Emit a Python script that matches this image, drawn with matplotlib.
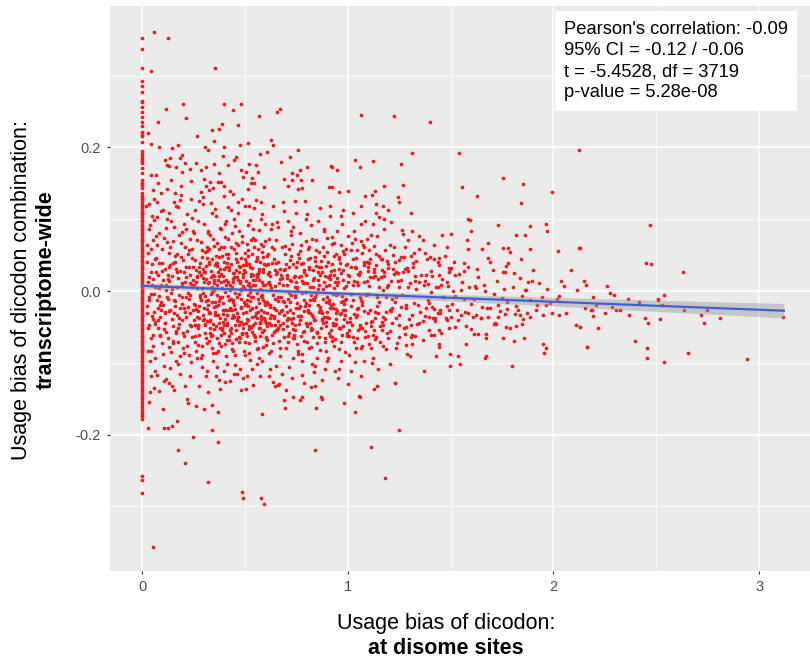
"""Disome-site dicodon usage bias vs transcriptome-wide combination bias."""

import matplotlib

matplotlib.use("Agg")
import matplotlib.pyplot as plt
import numpy as np

plt.rcParams["font.family"] = ["Liberation Sans", "DejaVu Sans"]

# dicodons never seen at disome sites (x = 0)
zero_y = [
    0.353, 0.337, 0.310, 0.292, 0.285, 0.277, 0.265, 0.263, 0.256, 0.249, 0.243, 0.236,
    0.230, 0.221, 0.218, 0.216, 0.207, 0.195, 0.191, 0.188, 0.184, 0.181, 0.178, 0.171,
    0.164, 0.155, 0.151, 0.147, 0.144, 0.137, 0.133, 0.131, 0.128, 0.126, 0.121, 0.119,
    0.116, 0.112, 0.109, 0.107, 0.103, 0.099, 0.097, 0.094, 0.090, 0.087, 0.085, 0.081,
    0.078, 0.074, 0.071, 0.069, 0.065, 0.062, 0.059, 0.056, 0.052, 0.049, 0.047, 0.043,
    0.040, 0.036, 0.033, 0.031, 0.027, 0.024, 0.021, 0.018, 0.014, 0.011, 0.008, 0.006,
    0.002, -0.001, -0.004, -0.008, -0.011, -0.013, -0.017, -0.020, -0.023, -0.027, -0.029,
    -0.033, -0.036, -0.039, -0.042, -0.046, -0.048, -0.052, -0.055, -0.058, -0.062, -0.064,
    -0.068, -0.071, -0.074, -0.077, -0.081, -0.084, -0.087, -0.090, -0.094, -0.097, -0.099,
    -0.103, -0.106, -0.109, -0.113, -0.116, -0.118, -0.122, -0.125, -0.128, -0.132, -0.135,
    -0.138, -0.141, -0.145, -0.148, -0.151, -0.155, -0.158, -0.161, -0.164, -0.168, -0.171,
    -0.174, -0.178, -0.257, -0.263, -0.281,
]

# sparse points above the cloud
upper_pts = [
    (0.06, 0.361), (0.128, 0.352), (0.042, 0.307), (0.353, 0.310), (0.199, 0.261),
    (0.118, 0.254), (0.214, 0.241), (0.078, 0.236), (0.40, 0.260), (0.479, 0.261),
    (0.442, 0.252), (0.57, 0.244), (0.655, 0.25), (0.672, 0.254), (0.467, 0.231),
    (0.39, 0.232), (0.375, 0.225), (0.338, 0.224), (0.269, 0.216), (0.35, 0.209),
    (0.029, 0.22), (0.045, 0.205), (0.083, 0.200), (0.175, 0.203), (0.147, 0.199),
    (0.304, 0.200), (0.319, 0.197), (0.398, 0.2), (0.476, 0.203), (0.516, 0.206),
    (0.625, 0.21), (0.634, 0.204), (0.756, 0.197), (0.573, 0.191), (0.607, 0.193),
    (0.717, 0.187), (0.673, 0.180), (0.80, 0.173), (0.917, 0.174), (0.948, 0.168),
    (1.037, 0.183), (1.062, 0.245), (1.225, 0.244), (1.401, 0.236), (1.314, 0.192),
    (1.54, 0.192), (1.057, 0.173), (1.123, 0.181), (1.259, 0.177), (2.125, 0.196),
    (1.754, 0.158), (1.854, 0.149), (1.994, 0.138), (1.555, 0.145), (1.175, 0.146),
    (1.267, 0.147), (1.13, 0.139), (1.084, 0.132), (1.117, 0.134), (1.243, 0.131),
    (1.628, 0.132), (0.112, 0.183), (0.138, 0.185), (0.122, 0.176), (0.13, 0.174),
    (0.165, 0.173), (0.184, 0.185), (0.193, 0.19), (0.208, 0.179), (0.195, 0.166),
    (0.235, 0.17), (0.264, 0.179), (0.288, 0.168), (0.312, 0.173), (0.35, 0.177),
    (0.392, 0.188), (0.419, 0.176), (0.375, 0.165), (0.447, 0.183), (0.457, 0.186),
    (0.482, 0.168), (0.518, 0.177), (0.555, 0.175), (0.505, 0.166), (0.562, 0.166),
    (0.491, 0.159), (0.535, 0.158), (0.545, 0.151), (0.531, 0.151), (0.044, 0.161),
    (0.066, 0.161), (0.078, 0.150), (0.051, 0.141), (0.142, 0.154), (0.188, 0.146),
    (0.16, 0.137), (0.24, 0.153), (0.301, 0.156), (0.33, 0.152), (0.288, 0.138),
    (0.325, 0.141), (0.31, 0.146), (0.346, 0.143), (0.369, 0.152), (0.383, 0.152),
    (0.4, 0.146), (0.443, 0.135), (0.425, 0.139), (0.514, 0.142), (0.593, 0.145),
    (0.689, 0.156), (0.707, 0.146), (0.727, 0.165), (0.73, 0.154), (0.751, 0.161),
    (0.768, 0.168), (0.773, 0.155), (0.757, 0.142), (0.779, 0.143), (0.827, 0.155),
    (0.908, 0.145), (0.924, 0.145), (0.958, 0.138), (1.001, 0.139), (0.924, 0.173),
]

# sparse points below the cloud
lower_pts = [
    (0.037, -0.140), (0.06, -0.135), (0.032, -0.154), (0.028, -0.191), (0.1, -0.165),
    (0.107, -0.126), (0.144, -0.133), (0.154, -0.138), (0.108, -0.191), (0.128, -0.191),
    (0.146, -0.188), (0.171, -0.181), (0.22, -0.151), (0.225, -0.156), (0.264, -0.16),
    (0.3, -0.164), (0.34, -0.159), (0.37, -0.168), (0.34, -0.194), (0.246, -0.204),
    (0.369, -0.21), (0.175, -0.221), (0.207, -0.239), (0.322, -0.266), (0.485, -0.28),
    (0.489, -0.288), (0.579, -0.288), (0.591, -0.296), (0.055, -0.356), (0.584, -0.172),
    (0.841, -0.221), (0.38, -0.136), (0.426, -0.125), (0.479, -0.138), (0.503, -0.136),
    (0.637, -0.127), (0.647, -0.133), (0.66, -0.131), (0.689, -0.152), (0.697, -0.163),
    (0.736, -0.148), (0.77, -0.152), (0.778, -0.148), (0.82, -0.134), (0.843, -0.133),
    (0.846, -0.163), (0.872, -0.147), (0.876, -0.151), (0.981, -0.156), (1.001, -0.13),
    (1.035, -0.168), (1.053, -0.146), (1.128, -0.137), (1.057, -0.147), (1.231, -0.128),
    (1.248, -0.193), (1.112, -0.217), (1.181, -0.26), (1.141, -0.132), (1.23, -0.128),
]

# right-hand part of the cloud (x > 1)
right_pts = [
    (1.249, 0.124), (1.84, 0.123), (1.062, 0.118), (1.172, 0.118), (1.196, 0.113),
    (1.139, 0.108), (1.152, 0.103), (1.176, 0.10), (1.306, 0.108), (1.21, 0.096),
    (1.063, 0.094), (1.123, 0.093), (1.586, 0.101), (1.594, 0.099), (1.73, 0.092),
    (1.887, 0.09), (1.964, 0.093), (1.967, 0.084), (1.817, 0.078), (1.862, 0.078),
    (1.6, 0.084), (1.503, 0.079), (1.456, 0.078), (1.265, 0.085), (1.311, 0.084),
    (1.268, 0.080), (1.142, 0.076), (1.029, 0.084), (1.346, 0.076), (1.364, 0.071),
    (1.578, 0.071), (1.683, 0.067), (1.756, 0.060), (1.777, 0.06), (1.791, 0.054),
    (1.888, 0.059), (2.021, 0.056), (2.126, 0.06), (1.582, 0.059), (1.652, 0.058),
    (1.482, 0.061), (1.68, 0.046), (1.84, 0.045), (1.778, 0.039), (1.563, 0.039),
    (1.515, 0.04), (1.628, 0.03), (1.704, 0.029), (1.77, 0.035), (1.764, 0.026),
    (1.806, 0.025), (2.084, 0.029), (1.874, 0.012), (1.895, 0.014), (2.037, 0.014),
    (2.052, 0.007), (2.112, 0.002), (1.967, 0.003), (1.861, 0.002), (1.848, -0.007),
    (1.757, 0.003), (2.029, -0.007), (2.019, -0.011), (1.965, -0.020), (1.921, -0.020),
    (1.948, -0.033), (1.992, -0.031), (2.026, -0.034), (2.063, -0.030), (2.107, -0.047),
    (2.128, -0.050), (2.165, -0.078), (1.948, -0.074), (1.965, -0.079), (1.956, -0.087),
    (1.888, -0.036), (1.872, -0.031), (1.845, -0.046), (1.816, -0.049), (1.859, -0.066),
    (1.808, -0.07), (1.754, -0.066), (1.769, -0.05), (1.72, -0.046), (1.673, -0.06),
    (1.67, -0.065), (1.634, -0.06), (1.615, -0.06), (1.573, -0.074), (1.67, -0.09),
    (1.667, -0.094), (1.8, -0.104), (1.547, -0.102), (1.536, -0.091), (1.497, -0.088),
    (1.497, -0.105), (1.427, -0.09), (1.369, -0.111), (1.207, -0.101), (1.147, -0.109),
    (1.117, -0.1), (1.079, -0.098), (1.034, -0.099), (1.016, -0.111), (1.063, -0.079),
    (1.286, -0.088), (1.3, -0.09), (1.442, -0.078), (1.443, -0.074), (1.311, -0.074),
    (1.282, -0.075), (1.235, -0.08), (1.188, -0.081), (1.173, -0.076), (1.112, -0.079),
    (1.07, -0.076), (1.047, -0.066), (1.406, -0.061), (1.421, -0.061), (1.573, -0.049),
    (1.519, -0.05), (1.494, -0.051), (1.445, -0.054), (1.325, -0.063), (1.306, -0.064),
    (1.283, -0.05), (1.251, -0.064), (1.194, -0.066), (1.139, -0.064), (1.099, -0.063),
    (1.026, -0.064), (1.049, -0.054), (1.125, -0.054), (1.168, -0.054), (1.28, -0.06),
    (1.307, -0.048), (1.366, -0.042), (1.396, -0.036), (1.422, -0.037), (1.503, -0.036),
    (1.55, -0.033), (1.584, -0.031), (1.607, -0.036), (1.621, -0.033), (1.65, -0.037),
    (1.684, -0.036), (1.714, -0.044), (1.73, -0.036), (1.765, -0.032), (1.811, -0.032),
    (1.838, -0.034), (1.775, -0.025), (1.827, -0.027), (1.73, -0.02), (1.689, -0.024),
    (1.652, -0.022), (1.6, -0.018), (1.531, -0.027), (1.484, -0.021), (1.45, -0.031),
    (1.421, -0.025), (1.396, -0.017), (1.343, -0.02), (1.519, -0.007), (1.563, -0.011),
    (1.623, 0.004), (1.62, 0.007), (1.667, 0.000), (1.709, -0.004), (1.751, -0.01),
    (1.549, 0.001), (1.591, 0.005), (1.485, 0.007), (1.438, 0.005), (1.451, 0.009),
    (1.392, 0.01), (1.511, 0.000), (1.403, -0.001), (1.377, 0.014), (1.346, 0.013),
    (1.327, 0.014), (1.293, 0.006), (1.243, 0.014), (1.445, 0.023), (1.382, 0.022),
    (1.409, 0.021), (1.494, 0.026), (1.54, 0.024), (1.503, 0.032), (1.49, 0.032),
    (1.565, 0.028), (1.437, 0.041), (1.421, 0.045), (1.442, 0.046), (1.398, 0.047),
    (1.374, 0.053), (1.319, 0.034), (1.286, 0.032), (1.232, 0.027), (1.176, 0.027),
    (1.128, 0.027), (1.33, 0.042), (1.306, 0.049), (1.273, 0.048), (1.249, 0.043),
    (1.22, 0.05), (1.189, 0.042), (1.16, 0.044), (1.078, 0.041), (1.11, 0.044),
    (1.042, 0.032), (1.096, 0.034), (1.204, 0.064), (1.183, 0.057), (1.102, 0.057),
    (1.044, 0.057), (1.073, 0.064), (1.091, 0.073), (1.033, 0.072), (1.277, 0.061),
    (1.324, 0.053),
    (2.468, 0.092), (2.45, 0.039), (2.474, 0.038), (2.628, 0.027), (2.131, 0.06),
    (2.15, 0.014), (2.157, 0.009), (2.262, 0.007), (2.191, -0.008), (2.274, -0.003),
    (2.295, -0.006), (2.536, -0.006), (2.51, -0.011), (2.507, -0.013), (2.361, -0.011),
    (2.414, -0.016), (2.207, -0.020), (2.286, -0.022), (2.154, -0.024), (2.181, -0.027),
    (2.189, -0.026), (2.303, -0.027), (2.322, -0.026), (2.529, -0.02), (2.633, -0.026),
    (2.744, -0.026), (2.252, -0.031), (2.193, -0.035), (2.369, -0.034), (2.717, -0.033),
    (2.443, -0.038), (2.519, -0.039), (2.809, -0.037), (2.46, -0.044), (2.733, -0.044),
    (3.118, -0.036), (2.131, -0.05), (2.218, -0.051), (2.395, -0.069), (2.162, -0.078),
    (2.455, -0.080), (2.654, -0.086), (2.453, -0.093), (2.536, -0.099), (2.94, -0.095),
]

# dense core, estimated by eye (0 < x < 2)
core_pts = [
    (0.021, 0.118), (0.024, -0.021), (0.026, 0.064), (0.029, -0.083), (0.031, 0.012),
    (0.033, 0.121), (0.035, -0.047), (0.038, 0.092), (0.041, -0.004), (0.043, -0.118),
    (0.046, 0.037), (0.049, 0.104), (0.052, -0.061), (0.054, 0.071), (0.057, -0.029),
    (0.059, 0.128), (0.062, 0.005), (0.065, -0.094), (0.068, 0.046), (0.071, -0.013),
    (0.073, 0.103), (0.076, -0.052), (0.079, 0.022), (0.082, -0.139), (0.084, 0.081),
    (0.087, -0.036), (0.090, 0.137), (0.093, 0.008), (0.096, -0.072), (0.098, 0.059),
    (0.101, -0.019), (0.104, 0.113), (0.107, -0.104), (0.110, 0.031), (0.113, -0.044),
    (0.116, 0.088), (0.119, -0.008), (0.121, 0.142), (0.124, -0.066), (0.127, 0.017),
    (0.130, -0.128), (0.133, 0.053), (0.136, -0.027), (0.139, 0.097), (0.142, -0.085),
    (0.145, 0.003), (0.148, 0.069), (0.151, -0.049), (0.154, 0.124), (0.157, -0.012),
    (0.160, 0.041), (0.163, -0.097), (0.166, 0.119), (0.169, -0.034), (0.172, 0.026),
    (0.175, -0.071), (0.178, 0.078), (0.181, -0.006), (0.184, -0.115), (0.187, 0.048),
    (0.190, 0.134), (0.193, -0.041), (0.196, 0.011), (0.199, -0.079), (0.202, 0.094),
    (0.205, -0.023), (0.208, 0.061), (0.211, -0.132), (0.214, 0.019), (0.217, -0.056),
    (0.220, 0.107), (0.223, -0.003), (0.226, 0.034), (0.229, -0.089), (0.232, 0.073),
    (0.235, -0.031), (0.238, 0.128), (0.241, -0.064), (0.244, 0.009), (0.247, 0.084),
    (0.252, -0.018), (0.256, 0.043), (0.259, -0.071), (0.263, 0.012), (0.266, -0.036),
    (0.27, 0.097), (0.273, -0.052), (0.277, 0.026), (0.281, -0.009), (0.284, 0.068),
    (0.288, -0.094), (0.291, 0.004), (0.295, -0.041), (0.298, 0.121), (0.302, -0.023),
    (0.305, 0.055), (0.309, -0.066), (0.312, 0.017), (0.316, -0.112), (0.319, 0.081),
    (0.323, -0.031), (0.326, 0.038), (0.33, -0.058), (0.333, -0.004), (0.337, 0.122),
    (0.34, -0.079), (0.344, 0.022), (0.347, -0.046), (0.351, 0.063), (0.354, -0.015),
    (0.358, 0.104), (0.361, -0.087), (0.365, 0.009), (0.368, -0.034), (0.372, 0.047),
    (0.375, -0.124), (0.379, 0.031), (0.382, -0.061), (0.386, 0.086), (0.389, -0.008),
    (0.393, -0.043), (0.396, 0.014), (0.4, 0.132), (0.403, -0.074), (0.407, 0.052),
    (0.41, -0.027), (0.414, -0.101), (0.417, 0.073), (0.421, -0.012), (0.424, 0.029),
    (0.428, -0.055), (0.431, 0.113), (0.435, -0.038), (0.438, 0.006), (0.442, -0.083),
    (0.445, 0.058), (0.449, -0.02), (0.452, 0.091), (0.456, -0.067), (0.459, 0.019),
    (0.463, -0.03), (0.466, 0.124), (0.47, -0.048), (0.473, 0.035), (0.477, -0.109),
    (0.48, 0.002), (0.484, 0.077), (0.487, -0.06), (0.491, 0.024), (0.494, -0.016),
    (0.498, 0.118), (0.501, -0.089), (0.505, 0.041), (0.508, -0.039), (0.512, 0.066),
    (0.515, -0.005), (0.519, -0.072), (0.522, 0.011), (0.526, 0.099), (0.529, -0.05),
    (0.533, 0.032), (0.536, -0.024), (0.54, -0.131), (0.543, 0.061), (0.547, -0.044),
    (0.55, 0.016), (0.554, 0.127), (0.557, -0.081), (0.561, 0.048), (0.564, -0.011),
    (0.568, 0.085), (0.571, -0.063), (0.575, 0.003), (0.578, -0.035), (0.582, 0.107),
    (0.585, -0.097), (0.589, 0.027), (0.592, -0.054), (0.596, 0.069), (0.599, -0.019),
    (0.254, 0.081), (0.258, -0.047), (0.261, 0.029), (0.265, -0.093), (0.268, 0.004),
    (0.272, -0.028), (0.275, 0.126), (0.279, -0.061), (0.282, 0.039), (0.286, -0.013),
    (0.289, 0.057), (0.293, -0.076), (0.296, 0.018), (0.3, -0.039), (0.303, 0.094),
    (0.307, -0.007), (0.31, -0.119), (0.314, 0.046), (0.317, -0.025), (0.321, 0.011),
    (0.324, -0.069), (0.328, 0.078), (0.331, -0.042), (0.335, 0.028), (0.338, -0.016),
    (0.342, 0.109), (0.345, -0.086), (0.349, 0.001), (0.352, -0.053), (0.356, 0.036),
    (0.359, -0.021), (0.363, 0.067), (0.366, -0.106), (0.37, 0.016), (0.373, -0.045),
    (0.377, 0.088), (0.38, -0.01), (0.384, -0.077), (0.387, 0.049), (0.391, -0.032),
    (0.394, 0.021), (0.398, -0.058), (0.401, 0.075), (0.405, -0.002), (0.408, -0.091),
    (0.412, 0.039), (0.415, -0.033), (0.419, 0.117), (0.422, -0.063), (0.426, 0.008),
    (0.429, -0.024), (0.433, 0.062), (0.436, -0.073), (0.44, 0.025), (0.443, -0.013),
    (0.447, 0.101), (0.45, -0.047), (0.454, -0.003), (0.457, 0.044), (0.461, -0.115),
    (0.464, 0.015), (0.468, -0.036), (0.471, 0.083), (0.475, -0.066), (0.478, 0.033),
    (0.482, -0.022), (0.485, 0.128), (0.489, -0.051), (0.492, 0.007), (0.496, -0.084),
    (0.499, 0.053), (0.503, -0.029), (0.506, 0.014), (0.51, -0.062), (0.513, 0.092),
    (0.517, -0.041), (0.52, 0.037), (0.524, -0.014), (0.527, -0.096), (0.531, 0.071),
    (0.534, -0.057), (0.538, 0.022), (0.541, -0.008), (0.545, 0.116), (0.548, -0.07),
    (0.552, 0.042), (0.555, -0.031), (0.559, -0.102), (0.562, 0.059), (0.566, -0.017),
    (0.569, 0.028), (0.573, -0.045), (0.576, 0.124), (0.58, -0.026), (0.583, 0.054),
    (0.587, -0.078), (0.59, 0.008), (0.594, -0.038), (0.597, 0.094), (0.6, -0.064),
    (0.262, -0.025), (0.271, -0.048), (0.283, -0.006), (0.294, -0.034), (0.306, -0.058),
    (0.318, -0.019), (0.329, -0.041), (0.341, -0.001), (0.353, -0.029), (0.364, -0.065),
    (0.376, -0.014), (0.388, -0.052), (0.399, -0.027), (0.411, -0.044), (0.423, -0.068),
    (0.434, -0.011), (0.446, -0.036), (0.458, -0.054), (0.469, -0.004), (0.481, -0.043),
    (0.493, -0.031), (0.504, -0.059), (0.516, -0.021), (0.528, -0.008), (0.539, -0.047),
    (0.551, -0.064), (0.563, -0.029), (0.574, -0.051), (0.586, -0.013), (0.598, -0.042),
    (0.267, 0.019), (0.279, 0.034), (0.292, 0.048), (0.304, 0.027), (0.315, 0.062),
    (0.327, 0.012), (0.339, 0.044), (0.35, 0.021), (0.362, 0.035), (0.374, 0.058),
    (0.385, 0.024), (0.397, 0.041), (0.409, 0.016), (0.42, 0.051), (0.432, 0.038),
    (0.444, 0.012), (0.455, 0.029), (0.467, 0.064), (0.479, 0.046), (0.49, 0.019),
    (0.502, 0.027), (0.514, 0.049), (0.525, 0.034), (0.537, 0.008), (0.549, 0.071),
    (0.56, 0.024), (0.572, 0.041), (0.584, 0.013), (0.595, 0.037), (0.257, -0.062),
    (0.278, -0.132), (0.322, -0.141), (0.358, -0.118), (0.404, -0.127), (0.447, -0.116),
    (0.493, -0.121), (0.532, -0.109), (0.571, -0.119),
    (0.603, 0.036), (0.607, -0.049), (0.611, 0.011), (0.615, -0.087), (0.619, 0.072),
    (0.623, -0.022), (0.627, 0.004), (0.631, -0.061), (0.635, 0.118), (0.639, -0.035),
    (0.643, 0.045), (0.647, -0.011), (0.651, -0.104), (0.655, 0.026), (0.659, -0.042),
    (0.663, 0.089), (0.667, -0.069), (0.671, 0.017), (0.675, -0.028), (0.679, 0.061),
    (0.683, -0.053), (0.687, 0.124), (0.691, -0.016), (0.695, 0.031), (0.699, -0.079),
    (0.703, 0.008), (0.707, -0.037), (0.711, 0.097), (0.715, -0.058), (0.719, 0.043),
    (0.723, -0.006), (0.727, -0.121), (0.731, 0.066), (0.735, -0.031), (0.739, 0.019),
    (0.743, -0.047), (0.747, 0.109), (0.751, -0.074), (0.755, 0.002), (0.759, 0.052),
    (0.763, -0.024), (0.767, 0.081), (0.771, -0.063), (0.775, 0.014), (0.779, -0.098),
    (0.783, 0.039), (0.787, -0.012), (0.791, 0.125), (0.795, -0.044), (0.799, 0.023),
    (0.803, -0.071), (0.807, 0.058), (0.811, -0.019), (0.815, 0.006), (0.819, -0.052),
    (0.823, 0.092), (0.827, -0.033), (0.831, 0.029), (0.835, -0.113), (0.839, 0.048),
    (0.843, -0.008), (0.847, 0.071), (0.851, -0.057), (0.855, 0.015), (0.859, -0.029),
    (0.863, 0.116), (0.867, -0.082), (0.871, 0.034), (0.875, -0.041), (0.879, 0.003),
    (0.883, 0.087), (0.887, -0.066), (0.891, 0.021), (0.895, -0.016), (0.899, 0.054),
    (0.903, -0.093), (0.907, 0.009), (0.911, -0.037), (0.915, 0.104), (0.919, -0.054),
    (0.923, 0.038), (0.927, -0.023), (0.931, 0.067), (0.935, -0.076), (0.939, 0.012),
    (0.943, -0.046), (0.947, 0.083), (0.951, -0.004), (0.955, -0.108), (0.959, 0.044),
    (0.963, -0.032), (0.967, 0.025), (0.971, -0.061), (0.975, 0.113), (0.979, -0.014),
    (0.983, 0.051), (0.987, -0.085), (0.991, 0.007), (0.995, -0.043), (0.999, 0.076),
    (0.605, -0.015), (0.613, 0.052), (0.621, -0.038), (0.629, 0.087), (0.637, -0.072),
    (0.645, 0.007), (0.653, -0.027), (0.661, 0.041), (0.669, -0.091), (0.677, 0.022),
    (0.685, -0.044), (0.693, 0.063), (0.701, -0.021), (0.709, -0.062), (0.717, 0.016),
    (0.725, 0.078), (0.733, -0.053), (0.741, -0.009), (0.749, 0.033), (0.757, -0.084),
    (0.765, 0.046), (0.773, -0.035), (0.781, 0.011), (0.789, -0.056), (0.797, 0.069),
    (0.805, -0.027), (0.813, 0.031), (0.821, -0.078), (0.829, 0.005), (0.837, -0.041),
    (0.845, 0.057), (0.853, -0.019), (0.861, -0.064), (0.869, 0.042), (0.877, -0.031),
    (0.885, 0.013), (0.893, -0.049), (0.901, 0.074), (0.909, -0.012), (0.917, 0.028),
    (0.925, -0.069), (0.933, 0.049), (0.941, -0.025), (0.949, 0.018), (0.957, -0.051),
    (0.965, 0.064), (0.973, -0.007), (0.981, -0.039), (0.989, 0.036), (0.997, -0.058),
    (0.609, -0.03), (0.625, -0.047), (0.641, -0.024), (0.657, -0.055), (0.673, -0.009),
    (0.689, -0.034), (0.705, -0.049), (0.721, -0.026), (0.737, -0.066), (0.753, -0.017),
    (0.769, -0.041), (0.785, -0.028), (0.801, -0.049), (0.817, -0.012), (0.833, -0.036),
    (0.849, -0.059), (0.865, -0.022), (0.881, -0.045), (0.897, -0.029), (0.913, -0.063),
    (0.929, -0.018), (0.945, -0.039), (0.961, -0.052), (0.977, -0.027), (0.993, -0.011),
    (0.617, 0.027), (0.649, 0.039), (0.681, 0.018), (0.713, 0.034), (0.745, 0.021),
    (0.617, -0.118), (0.665, -0.129), (0.713, -0.106), (0.777, -0.117), (0.825, -0.101),
    (0.873, -0.124), (0.937, -0.112), (0.969, -0.097), (0.701, -0.138), (0.889, -0.109),
    (1.004, 0.021), (1.011, -0.038), (1.017, 0.057), (1.024, -0.012), (1.031, -0.071),
    (1.037, 0.034), (1.044, -0.025), (1.051, 0.008), (1.057, -0.047), (1.064, 0.069),
    (1.071, -0.019), (1.077, 0.013), (1.084, -0.056), (1.091, 0.041), (1.097, -0.031),
    (1.104, -0.004), (1.111, 0.078), (1.117, -0.042), (1.124, 0.019), (1.131, -0.067),
    (1.137, 0.052), (1.144, -0.021), (1.151, 0.006), (1.157, -0.049), (1.164, 0.029),
    (1.171, -0.036), (1.177, 0.087), (1.184, -0.009), (1.191, -0.058), (1.197, 0.037),
    (1.204, -0.027), (1.211, 0.014), (1.217, -0.044), (1.224, 0.061), (1.231, -0.015),
    (1.237, -0.073), (1.244, 0.025), (1.251, -0.033), (1.257, 0.047), (1.264, -0.006),
    (1.271, -0.052), (1.277, 0.031), (1.284, -0.024), (1.291, 0.071), (1.297, -0.039),
    (1.304, 0.011), (1.311, -0.061), (1.317, 0.039), (1.324, -0.017), (1.331, 0.003),
    (1.337, -0.046), (1.344, 0.058), (1.351, -0.029), (1.357, 0.022), (1.364, -0.068),
    (1.371, 0.009), (1.377, -0.035), (1.384, 0.044), (1.391, -0.013), (1.397, -0.054),
    (1.404, 0.028), (1.411, -0.022), (1.417, 0.064), (1.424, -0.042), (1.431, 0.005),
    (1.437, -0.031), (1.444, 0.036), (1.451, -0.058), (1.457, 0.017), (1.464, -0.009),
    (1.471, 0.049), (1.477, -0.037), (1.484, 0.012), (1.491, -0.026), (1.497, 0.031),
    (1.014, -0.021), (1.047, -0.034), (1.081, -0.028), (1.114, -0.043), (1.147, -0.031),
    (1.181, -0.039), (1.214, -0.024), (1.247, -0.048), (1.281, -0.019), (1.314, -0.033),
    (1.347, -0.045), (1.381, -0.023), (1.414, -0.038), (1.447, -0.027), (1.481, -0.041),
    (1.027, 0.008), (1.061, 0.027), (1.094, 0.014), (1.127, 0.031), (1.161, 0.019),
    (1.194, 0.009), (1.227, 0.024), (1.261, 0.016), (1.294, 0.028), (1.327, 0.021),
    (1.507, -0.018), (1.523, 0.023), (1.538, -0.041), (1.553, 0.012), (1.569, -0.029),
    (1.584, 0.034), (1.599, -0.053), (1.615, -0.011), (1.631, 0.019), (1.646, -0.037),
    (1.662, 0.008), (1.678, -0.024), (1.693, 0.041), (1.709, -0.046), (1.724, 0.014),
    (1.741, -0.028), (1.756, 0.027), (1.772, -0.015), (1.788, -0.052), (1.803, 0.006),
    (1.819, -0.021), (1.836, 0.018), (1.852, -0.039), (1.868, 0.001), (1.884, -0.012),
    (1.899, 0.029), (1.916, -0.027), (1.931, 0.011), (1.946, -0.009), (1.982, -0.017),
]

# second pass over the densest part of the cloud
core_extra_pts = [
    (0.023, 0.041), (0.027, -0.052), (0.032, 0.086), (0.036, -0.009), (0.039, -0.098),
    (0.044, 0.058), (0.047, -0.035), (0.051, 0.017), (0.055, -0.076), (0.058, 0.099),
    (0.063, -0.043), (0.067, 0.027), (0.071, -0.117), (0.074, 0.064), (0.078, -0.024),
    (0.083, 0.004), (0.086, -0.061), (0.091, 0.112), (0.094, -0.015), (0.099, 0.039),
    (0.103, -0.088), (0.106, 0.074), (0.111, -0.031), (0.115, 0.008), (0.118, -0.057),
    (0.123, 0.101), (0.126, -0.011), (0.131, 0.033), (0.135, -0.107), (0.138, 0.061),
    (0.143, -0.039), (0.147, 0.021), (0.15, -0.073), (0.155, 0.089), (0.158, -0.021),
    (0.162, 0.049), (0.167, -0.058), (0.17, 0.006), (0.174, 0.117), (0.179, -0.046),
    (0.183, 0.028), (0.186, -0.091), (0.191, 0.067), (0.195, -0.018), (0.198, 0.043),
    (0.203, -0.063), (0.207, 0.013), (0.21, -0.029), (0.215, 0.086), (0.219, -0.077),
    (0.222, 0.051), (0.227, -0.011), (0.231, -0.047), (0.234, 0.023), (0.239, -0.099),
    (0.243, 0.058), (0.246, -0.026), (0.251, 0.008), (0.255, 0.113), (0.26, -0.083),
    (0.301, 0.012), (0.305, -0.046), (0.311, 0.035), (0.315, -0.072), (0.32, -0.012),
    (0.325, 0.058), (0.329, -0.031), (0.334, 0.004), (0.339, -0.061), (0.343, 0.073),
    (0.348, -0.022), (0.352, 0.016), (0.357, -0.049), (0.362, -0.006), (0.366, 0.039),
    (0.371, -0.083), (0.375, 0.021), (0.38, -0.037), (0.385, 0.061), (0.389, -0.055),
    (0.394, -0.017), (0.399, 0.031), (0.403, -0.039), (0.408, 0.009), (0.413, -0.068),
    (0.417, 0.046), (0.422, -0.027), (0.427, 0.002), (0.431, -0.051), (0.436, 0.081),
    (0.441, -0.033), (0.445, 0.019), (0.45, -0.089), (0.455, 0.053), (0.459, -0.009),
    (0.464, -0.042), (0.469, 0.027), (0.473, -0.064), (0.478, 0.011), (0.483, -0.024),
    (0.487, 0.068), (0.492, -0.046), (0.497, 0.004), (0.501, -0.071), (0.506, 0.036),
    (0.511, -0.013), (0.515, 0.057), (0.52, -0.053), (0.525, -0.002), (0.529, 0.024),
    (0.534, -0.036), (0.539, 0.087), (0.543, -0.061), (0.548, 0.009), (0.553, -0.022),
    (0.557, 0.044), (0.562, -0.079), (0.567, 0.016), (0.571, -0.043), (0.576, 0.066),
    (0.581, -0.009), (0.585, -0.057), (0.59, 0.031), (0.595, -0.029), (0.599, 0.008),
    (0.604, -0.066), (0.609, 0.049), (0.613, -0.018), (0.618, -0.045), (0.623, 0.021),
    (0.627, -0.083), (0.632, 0.062), (0.637, -0.006), (0.641, -0.037), (0.646, 0.029),
    (0.651, -0.055), (0.655, 0.096), (0.66, -0.014), (0.665, 0.011), (0.669, -0.048),
    (0.702, 0.037), (0.706, -0.029), (0.711, -0.071), (0.716, 0.058), (0.72, -0.015),
    (0.725, 0.014), (0.73, -0.044), (0.734, 0.089), (0.739, -0.061), (0.744, 0.005),
    (0.748, -0.024), (0.753, 0.041), (0.758, -0.088), (0.762, 0.019), (0.767, -0.035),
    (0.772, 0.064), (0.776, -0.003), (0.781, -0.057), (0.786, 0.029), (0.79, -0.021),
    (0.795, 0.101), (0.8, -0.046), (0.804, 0.011), (0.809, -0.079), (0.814, 0.046),
    (0.818, -0.031), (0.823, -0.006), (0.828, 0.072), (0.832, -0.064), (0.837, 0.018),
    (0.842, -0.041), (0.846, 0.035), (0.851, -0.094), (0.856, 0.003), (0.86, 0.054),
    (0.865, -0.027), (0.87, -0.051), (0.874, 0.026), (0.879, -0.011), (0.884, 0.083),
    (0.888, -0.071), (0.893, 0.007), (0.898, -0.036), (0.902, 0.041), (0.907, -0.058),
    (0.912, 0.017), (0.916, -0.019), (0.921, 0.066), (0.926, -0.044), (0.93, -0.004),
    (0.935, 0.029), (0.94, -0.067), (0.944, 0.051), (0.949, -0.028), (0.954, 0.012),
    (0.958, -0.081), (0.963, 0.039), (0.968, -0.016), (0.972, 0.094), (0.977, -0.049),
    (0.982, 0.004), (0.986, -0.033), (0.991, 0.059), (0.996, -0.062), (1.001, 0.023),
    (1.021, -0.047), (1.041, 0.046), (1.061, -0.009), (1.081, 0.062), (1.101, -0.074),
    (0.062, -0.111), (0.118, -0.123), (0.176, -0.101), (0.233, -0.118), (0.291, -0.106),
    (0.347, -0.097), (0.398, -0.112), (0.452, -0.103), (0.511, -0.119), (0.566, -0.094),
    (0.622, -0.108), (0.678, -0.116), (0.733, -0.093), (0.788, -0.128), (0.843, -0.104),
    (0.897, -0.097), (0.952, -0.121), (1.008, -0.089), (1.063, -0.118), (1.121, -0.093),
    (0.071, 0.124), (0.129, 0.109), (0.185, 0.127), (0.241, 0.102), (0.297, 0.131),
    (0.353, 0.114), (0.409, 0.098), (0.464, 0.109), (0.521, 0.118), (0.577, 0.101),
    (0.633, 0.094), (0.689, 0.112), (0.745, 0.126), (0.801, 0.107), (0.857, 0.098),
    (0.913, 0.119), (0.969, 0.104), (1.025, 0.109), (1.082, 0.097), (1.138, 0.121),
]

# third pass: the packed band just under and above the fit line
core_fill_pts = [
    (0.024, -0.031), (0.035, 0.019), (0.044, -0.066), (0.056, -0.004), (0.064, 0.044),
    (0.077, -0.041), (0.085, -0.019), (0.097, 0.028), (0.108, -0.053), (0.117, 0.002),
    (0.129, -0.028), (0.138, 0.036), (0.149, -0.069), (0.161, -0.014), (0.171, 0.051),
    (0.18, -0.038), (0.192, 0.007), (0.201, -0.059), (0.213, 0.033), (0.224, -0.022),
    (0.233, -0.006), (0.245, 0.046), (0.253, -0.041), (0.266, 0.021), (0.274, -0.075),
    (0.287, -0.012), (0.296, 0.031), (0.308, -0.048), (0.317, 0.056), (0.327, -0.029),
    (0.336, -0.062), (0.348, 0.011), (0.357, 0.039), (0.369, -0.019), (0.378, -0.052),
    (0.39, 0.004), (0.398, 0.061), (0.411, -0.034), (0.419, -0.007), (0.432, -0.058),
    (0.44, 0.017), (0.452, -0.025), (0.461, 0.041), (0.473, -0.071), (0.482, -0.011),
    (0.494, 0.029), (0.503, -0.044), (0.515, 0.009), (0.523, -0.027), (0.536, 0.052),
    (0.544, -0.061), (0.557, -0.003), (0.565, 0.024), (0.578, -0.039), (0.586, 0.047),
    (0.598, -0.016), (0.607, -0.068), (0.619, 0.013), (0.628, -0.033), (0.64, 0.058),
    (0.648, -0.047), (0.661, -0.008), (0.669, 0.031), (0.682, -0.026), (0.69, -0.064),
    (0.703, 0.022), (0.711, -0.011), (0.724, 0.049), (0.732, -0.038), (0.745, -0.054),
    (0.753, 0.006), (0.766, -0.021), (0.774, 0.037), (0.787, -0.069), (0.795, -0.002),
    (0.808, 0.044), (0.816, -0.045), (0.829, 0.016), (0.837, -0.013), (0.85, -0.057),
    (0.858, 0.034), (0.871, -0.028), (0.879, 0.061), (0.892, -0.043), (0.9, -0.009),
    (0.913, 0.023), (0.921, -0.064), (0.934, 0.004), (0.942, -0.031), (0.955, 0.047),
    (0.963, -0.052), (0.976, 0.015), (0.984, -0.018), (0.997, 0.038), (1.005, -0.063),
    (1.018, -0.004), (1.026, 0.044), (1.039, -0.036), (1.047, 0.012), (1.06, -0.051),
    (1.068, -0.015), (1.081, 0.036), (1.089, -0.044), (1.102, 0.007), (1.11, -0.026),
    (1.123, -0.061), (1.131, 0.021), (1.144, -0.009), (1.152, 0.049), (1.165, -0.043),
    (1.173, 0.002), (1.186, -0.029), (1.194, 0.032), (1.207, -0.056), (1.215, -0.011),
    (1.228, 0.041), (1.236, -0.037), (1.249, 0.006), (1.257, -0.022), (1.27, 0.027),
    (0.029, 0.053), (0.041, -0.084), (0.048, 0.009), (0.061, -0.046), (0.069, 0.077),
    (0.081, -0.007), (0.089, -0.063), (0.102, 0.015), (0.109, -0.029), (0.122, 0.068),
    (0.131, -0.078), (0.141, -0.003), (0.152, 0.039), (0.164, -0.056), (0.173, 0.018),
    (0.185, -0.024), (0.194, 0.082), (0.206, -0.086), (0.215, -0.008), (0.227, 0.057),
    (0.236, -0.049), (0.248, 0.016), (0.257, -0.019), (0.269, 0.071), (0.278, -0.038),
    (0.29, -0.089), (0.299, 0.026), (0.311, -0.014), (0.32, 0.084), (0.332, -0.051),
    (0.341, 0.005), (0.353, -0.033), (0.361, 0.049), (0.373, -0.073), (0.382, 0.012),
    (0.394, -0.026), (0.403, 0.093), (0.415, -0.047), (0.424, 0.033), (0.436, -0.081),
    (0.444, -0.015), (0.456, 0.067), (0.465, -0.036), (0.477, 0.014), (0.486, -0.058),
    (0.498, 0.045), (0.506, -0.018), (0.518, -0.087), (0.527, 0.006), (0.539, 0.074),
    (0.547, -0.035), (0.56, 0.019), (0.568, -0.052), (0.58, -0.007), (0.589, 0.063),
    (0.601, -0.075), (0.61, 0.024), (0.622, -0.019), (0.631, 0.039), (0.643, -0.057),
    (0.651, 0.071), (0.664, -0.031), (0.672, -0.079), (0.684, 0.009), (0.693, 0.052),
    (0.705, -0.041), (0.714, -0.003), (0.726, 0.083), (0.735, -0.066), (0.747, 0.013),
    (0.756, -0.035), (0.768, 0.056), (0.777, -0.088), (0.789, 0.026), (0.798, -0.017),
    (0.81, 0.062), (0.819, -0.054), (0.831, -0.011), (0.84, 0.042), (0.852, -0.073),
    (0.861, 0.008), (0.873, -0.039), (0.882, 0.049), (0.894, -0.084), (0.903, 0.019),
    (0.915, -0.023), (0.924, 0.075), (0.936, -0.047), (0.945, -0.006), (0.957, 0.031),
    (0.966, -0.071), (0.978, 0.056), (0.987, -0.026), (0.999, 0.012), (1.008, -0.055),
    (1.02, 0.067), (1.029, -0.032), (1.041, -0.079), (1.05, 0.024), (1.062, -0.013),
    (1.071, 0.053), (1.083, -0.064), (1.092, -0.004), (1.104, 0.039), (1.113, -0.049),
    (1.125, 0.063), (1.134, -0.029), (1.146, 0.017), (1.155, -0.071), (1.167, 0.044),
    (0.032, -0.012), (0.052, -0.039), (0.072, 0.006), (0.092, -0.027), (0.112, -0.045),
    (0.133, 0.014), (0.153, -0.031), (0.174, -0.051), (0.194, -0.008), (0.214, -0.036),
    (0.235, 0.011), (0.255, -0.047), (0.276, -0.021), (0.296, -0.003), (0.316, -0.042),
    (0.337, 0.019), (0.357, -0.034), (0.377, -0.009), (0.398, -0.048), (0.418, 0.012),
    (0.438, -0.026), (0.459, -0.041), (0.479, 0.003), (0.499, -0.019), (0.52, -0.049),
    (0.54, 0.016), (0.561, -0.037), (0.581, -0.006), (0.601, -0.044), (0.622, 0.009),
    (0.642, -0.023), (0.662, -0.051), (0.683, -0.014), (0.703, 0.018), (0.723, -0.039),
    (0.744, -0.005), (0.764, -0.046), (0.785, 0.011), (0.805, -0.029), (0.825, -0.053),
    (0.846, -0.004), (0.866, 0.022), (0.886, -0.036), (0.907, -0.017), (0.927, -0.048),
    (0.948, 0.008), (0.968, -0.031), (0.988, -0.012), (1.009, -0.043), (1.029, 0.014),
    (1.049, -0.024), (1.07, -0.052), (1.09, -0.006), (1.11, 0.019), (1.131, -0.037),
    (1.151, -0.016), (1.172, -0.047), (1.192, 0.006), (1.212, -0.028), (1.233, -0.009),
    (0.043, 0.027), (0.083, 0.039), (0.124, 0.023), (0.165, 0.031), (0.205, 0.026),
    (0.246, 0.034), (0.286, 0.022), (0.327, 0.041), (0.367, 0.027), (0.408, 0.033),
    (0.448, 0.025), (0.489, 0.036), (0.529, 0.021), (0.57, 0.031), (0.61, 0.037),
    (0.651, 0.024), (0.691, 0.029), (0.732, 0.038), (0.772, 0.021), (0.813, 0.033),
    (0.853, 0.026), (0.894, 0.035), (0.934, 0.022), (0.975, 0.029), (1.015, 0.034),
    (1.056, 0.023), (1.096, 0.028), (1.137, 0.036), (1.177, 0.021), (1.218, 0.031),
]

# linear fit (geom_smooth, method = "lm")
fit_intercept = 0.0072
fit_slope = -0.0111
ci_x = [0.0, 0.5, 1.0, 1.5, 2.0, 2.5, 3.12]
ci_half = [0.0042, 0.0036, 0.0038, 0.0046, 0.0060, 0.0078, 0.0100]

stats_text = (
    "Pearson's correlation: -0.09\n"
    "95% CI = -0.12 / -0.06\n"
    "t = -5.4528, df = 3719\n"
    "p-value = 5.28e-08"
)

points = ([(0.0, y) for y in zero_y] + upper_pts + lower_pts + right_pts
          + core_pts + core_extra_pts + core_fill_pts)
x_vals = np.array([p[0] for p in points])
y_vals = np.array([p[1] for p in points])

fig = plt.figure(figsize=(8.1, 6.64), dpi=100)
ax = fig.add_axes([110 / 810, 1 - 571 / 664, 700 / 810, 565 / 664])
ax.set_facecolor("#EBEBEB")
for side in ax.spines.values():
    side.set_visible(False)

ax.set_xlim(-0.156, 3.247)
ax.set_ylim(-0.390, 0.397)
ax.set_xticks([0, 1, 2, 3])
ax.set_xticklabels(["0", "1", "2", "3"])
ax.set_yticks([-0.2, 0.0, 0.2])
ax.set_yticklabels(["-0.2", "0.0", "0.2"])
ax.set_xticks([0.5, 1.5, 2.5], minor=True)
ax.set_yticks([-0.3, -0.1, 0.1, 0.3], minor=True)
ax.grid(which="major", color="white", linewidth=1.1)
ax.grid(which="minor", color="white", linewidth=0.55)
ax.set_axisbelow(True)
ax.tick_params(which="major", length=2.5, width=0.8, color="#333333",
               labelcolor="#4D4D4D", labelsize=10.5, pad=4)
ax.tick_params(which="minor", length=0)

ax.scatter(x_vals, y_vals, s=7, color="#F21A1A", linewidths=0, zorder=2)

band_x = np.array(ci_x)
band_mid = fit_intercept + fit_slope * band_x
ax.fill_between(band_x, band_mid - np.array(ci_half), band_mid + np.array(ci_half),
                color="#999999", alpha=0.45, linewidth=0, zorder=3)
ax.plot(band_x, band_mid, color="#3D62D6", linewidth=1.6, zorder=4)

ax.text((564 - 110) / 700, (571 - 20.5) / 565, stats_text, transform=ax.transAxes,
        ha="left", va="top", fontsize=13.2, color="black", linespacing=1.33, zorder=5,
        bbox=dict(boxstyle="square,pad=0.5", facecolor="white", edgecolor="none"))

fig.text(446 / 810, 1 - 623 / 664, "Usage bias of dicodon:", ha="center", va="center",
         fontsize=15.5)
fig.text(446 / 810, 1 - 649 / 664, "at disome sites", ha="center", va="center",
         fontsize=15.5, fontweight="bold")
fig.text(22 / 810, 1 - 290 / 664, "Usage bias of dicodon combination:", ha="center",
         va="center", rotation=90, fontsize=15.5)
fig.text(46 / 810, 1 - 290 / 664, "transcriptome-wide", ha="center", va="center",
         rotation=90, fontsize=15.5, fontweight="bold")

fig.savefig("out.png", dpi=100)
